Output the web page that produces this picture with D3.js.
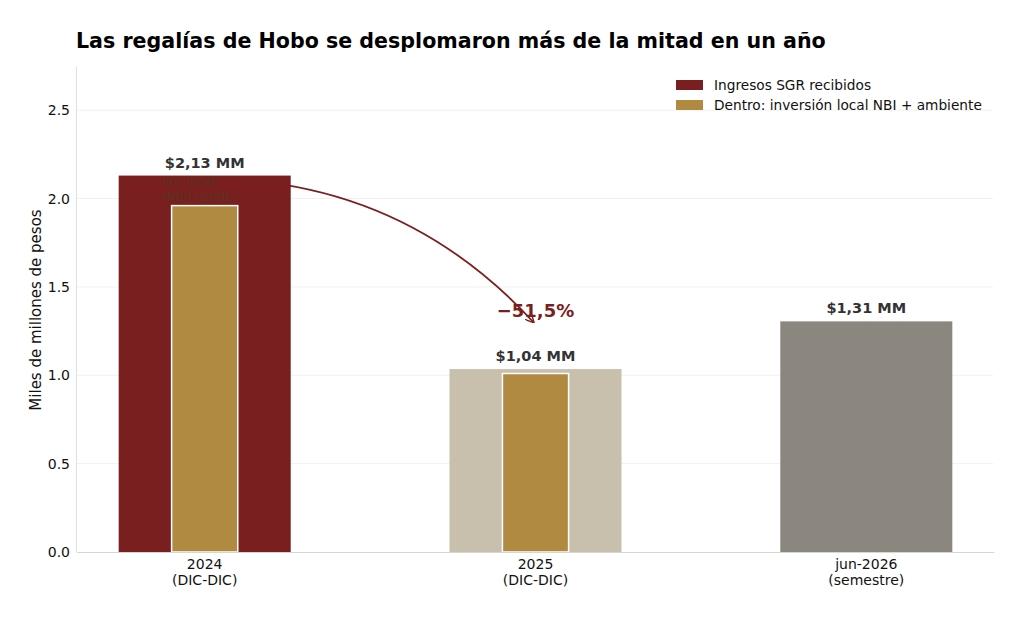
<!DOCTYPE html>
<html>
<head>
<meta charset="utf-8">
<script src="https://cdn.jsdelivr.net/npm/d3@7"></script>
<style>
  body { margin: 0; background: #fff; }
  svg { font-family: "DejaVu Sans", sans-serif; }
</style>
</head>
<body>
<svg id="chart" width="1024" height="617"></svg>
<script>
// data
var categories = ["2024\n(DIC-DIC)", "2025\n(DIC-DIC)", "jun-2026\n(semestre)"];
var ingresos = [2.13, 1.035, 1.305];
var inversion = [1.96, 1.01, null];
var valueLabels = ["$2,13 MM", "$1,04 MM", "$1,31 MM"];
var yTicks = [0, 0.5, 1.0, 1.5, 2.0, 2.5];
var legendLabels = ["Ingresos SGR recibidos", "Dentro: inversión local NBI + ambiente"];
var changeLabel = "\u221251,5%";
var changeTo = 1.30;

var outerColors = ["#7a1f1f", "#c9bfad", "#8b877e"];
var innerColor = "#b08a40";
var red = "#7a1f1f";

var margin = { left: 76, right: 31, top: 66, bottom: 65 };
var width = 1024, height = 617;

var svg = d3.select("#chart");

// scales
var x = d3.scaleLinear()
	.domain([-0.386, 2.386])
	.range([margin.left + 1, width - margin.right + 1]);
var y = d3.scaleLinear()
	.domain([0, 2.75])
	.range([height - margin.bottom, margin.top]);

var outerW = x(0.52) - x(0);
var innerW = x(0.2) - x(0);

// grid
svg.append("g").selectAll("line").data(yTicks.slice(1)).enter().append("line")
	.attr("x1", margin.left).attr("x2", width - margin.right)
	.attr("y1", d => y(d)).attr("y2", d => y(d))
	.attr("stroke", "#f3f1ee").attr("stroke-width", 1);

// arrow (drawn under the bars)
var defs = svg.append("defs");
defs.append("marker")
	.attr("id", "head")
	.attr("viewBox", "0 0 10 10")
	.attr("refX", 9).attr("refY", 5)
	.attr("markerWidth", 9).attr("markerHeight", 9)
	.attr("markerUnits", "userSpaceOnUse")
	.attr("orient", "auto")
	.append("path")
	.attr("d", "M0,0 L10,5 L0,10")
	.attr("fill", "none").attr("stroke", red).attr("stroke-width", 1.6);

var p0 = [x(0), y(ingresos[0]) + 3];
var p2 = [x(1) - 2, y(changeTo)];
var mx = (p0[0] + p2[0]) / 2, my = (p0[1] + p2[1]) / 2;
var ddx = p2[0] - p0[0], ddy = p2[1] - p0[1];
var rad = 0.22;
var c = [mx + rad * ddy, my - rad * ddx];
svg.append("path")
	.attr("d", "M" + p0 + " Q" + c + " " + p2)
	.attr("fill", "none")
	.attr("stroke", red)
	.attr("stroke-width", 1.8)
	.attr("marker-end", "url(#head)");

// outer bars
svg.append("g").selectAll("rect").data(ingresos).enter().append("rect")
	.attr("x", (d, i) => x(i) - outerW / 2)
	.attr("width", outerW)
	.attr("y", d => y(d))
	.attr("height", d => y(0) - y(d))
	.attr("fill", (d, i) => outerColors[i]);

// inner bars
svg.append("g").selectAll("rect")
	.data(inversion.map((v, i) => ({ v: v, i: i })).filter(d => d.v !== null))
	.enter().append("rect")
	.attr("x", d => x(d.i) - innerW / 2)
	.attr("width", innerW)
	.attr("y", d => y(d.v))
	.attr("height", d => y(0) - y(d.v))
	.attr("fill", innerColor)
	.attr("stroke", "#fff")
	.attr("stroke-width", 1.5);

// small note inside first bar
var note = svg.append("text")
	.attr("y", y(ingresos[0]) + 10)
	.attr("font-size", 12)
	.attr("fill", "#58331f");
note.append("tspan").attr("x", x(0) - 42).attr("dy", 0).text("inv. local");
note.append("tspan").attr("x", x(0) - 42).attr("dy", 15).text("(NBI)+amb.");

// value labels
svg.append("g").selectAll("text").data(ingresos).enter().append("text")
	.attr("x", (d, i) => x(i))
	.attr("y", d => y(d) - 8)
	.attr("text-anchor", "middle")
	.attr("font-size", 14.5)
	.attr("font-weight", "bold")
	.attr("fill", "#333")
	.text((d, i) => valueLabels[i]);

// change label
svg.append("text")
	.attr("x", x(1))
	.attr("y", y(changeTo) - 5)
	.attr("text-anchor", "middle")
	.attr("font-size", 18)
	.attr("font-weight", "bold")
	.attr("fill", red)
	.text(changeLabel);

// axes
var yAxis = svg.append("g")
	.attr("transform", "translate(" + margin.left + ",0)")
	.call(d3.axisLeft(y).tickValues(yTicks).tickFormat(d3.format(".1f")).tickSize(0).tickPadding(6));
yAxis.select(".domain").attr("stroke", "#e3dfd9");
yAxis.selectAll("text").attr("font-size", 14).attr("fill", "#111").attr("font-family", "DejaVu Sans");

var xAxis = svg.append("g")
	.attr("transform", "translate(0," + y(0) + ")")
	.call(d3.axisBottom(x).tickValues([0, 1, 2]).tickSize(0).tickFormat(""));
xAxis.select(".domain").attr("stroke", "#d9d5cf");

var xl = svg.append("g").selectAll("text").data(categories).enter().append("text")
	.attr("text-anchor", "middle")
	.attr("font-size", 14)
	.attr("fill", "#111");
xl.each(function (d, i) {
	var parts = d.split("\n");
	var t = d3.select(this);
	parts.forEach(function (p, j) {
		t.append("tspan").attr("x", x(i)).attr("y", y(0) + 17 + j * 16).text(p);
	});
});

svg.append("text")
	.attr("transform", "translate(41," + ((y(0) + y(2.75)) / 2 + 1) + ") rotate(-90)")
	.attr("text-anchor", "middle")
	.attr("font-size", 15)
	.attr("fill", "#111")
	.text("Miles de millones de pesos");

// legend
var legend = svg.append("g").attr("transform", "translate(676,80)");
var lg = legend.selectAll("g").data(legendLabels).enter().append("g")
	.attr("transform", (d, i) => "translate(0," + i * 20 + ")");
lg.append("rect").attr("width", 27).attr("height", 10)
	.attr("fill", (d, i) => i == 0 ? red : innerColor);
lg.append("text").attr("x", 38).attr("y", 10)
	.attr("font-size", 13.7).attr("fill", "#111")
	.text(d => d);

// title
svg.append("text")
	.attr("x", margin.left)
	.attr("y", 48)
	.attr("font-size", 20.6)
	.attr("font-weight", "bold")
	.attr("fill", "#000")
	.text("Las regalías de Hobo se desplomaron más de la mitad en un año");
</script>
</body>
</html>
